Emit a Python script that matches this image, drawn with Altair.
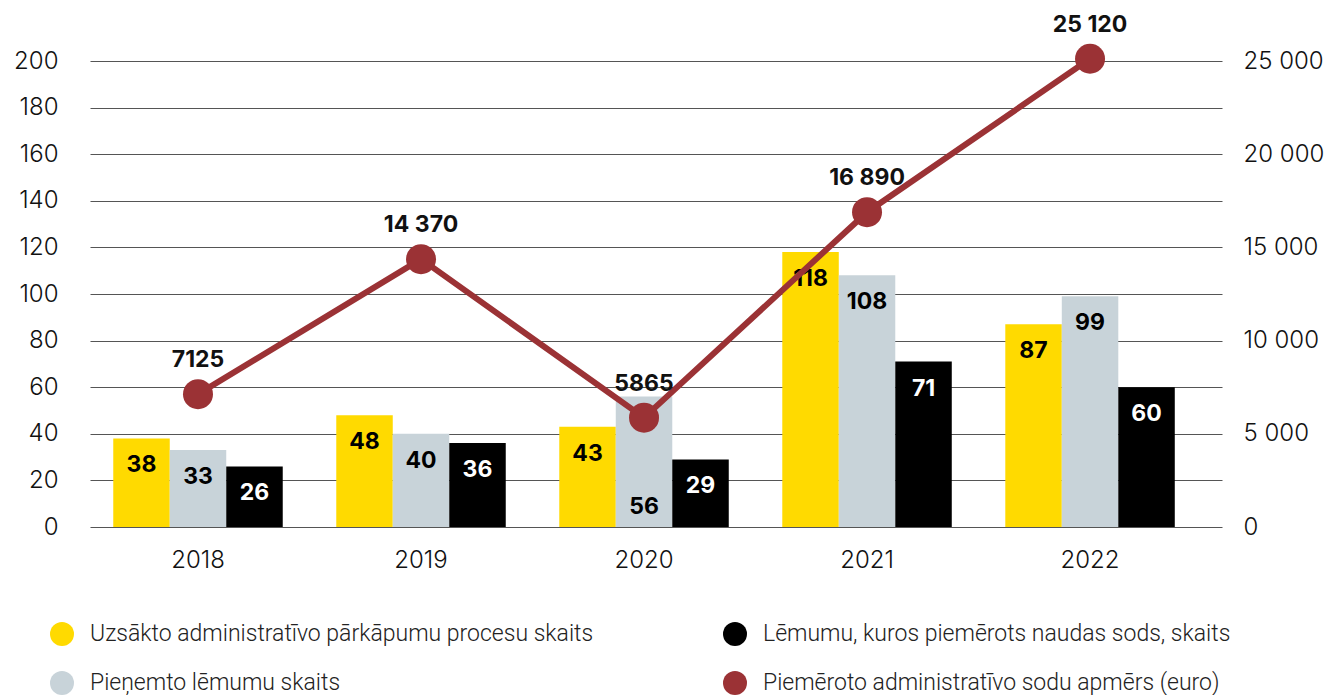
import altair as alt
import pandas as pd

years = ["2018", "2019", "2020", "2021", "2022"]
started = [38, 48, 43, 118, 87]
decisions = [33, 40, 56, 108, 99]
fined = [26, 36, 29, 71, 60]
fines_eur = [7125, 14370, 5865, 16890, 25120]

S1 = "Uzsākto administratīvo pārkāpumu procesu skaits"
S2 = "Pieņemto lēmumu skaits"
S3 = "Lēmumu, kuros piemērots naudas sods, skaits"
S4 = "Piemēroto administratīvo sodu apmērs (euro)"

left_ticks = list(range(0, 201, 20))
right_ticks = list(range(0, 25001, 5000))

YELLOW = "#FFDA00"
GRAY = "#C8D3D9"
BLACK = "#000000"
RED = "#9B3235"

rows = []
for i, y in enumerate(years):
    for s, vals in ((S1, started), (S2, decisions), (S3, fined)):
        v = vals[i]
        # the middle bar's top label would sit under the line's point -> move to base
        collide = (s == S2) and abs((v - 10) - fines_eur[i] / 125) < 15
        rows.append({"year": y, "series": s, "value": v, "base": collide})
bars_df = pd.DataFrame(rows)
line_df = pd.DataFrame({"year": years, "eur": fines_eur, "series": S4})

FONT = "Inter"

x_enc = alt.X(
    "year:N",
    sort=years,
    title=None,
    scale=alt.Scale(paddingInner=0.24, paddingOuter=0.158, align=0.33),
    axis=alt.Axis(domain=False, ticks=False, labelAngle=0, labelFont=FONT,
                  labelFontWeight=300, labelFontSize=24, labelColor="#111",
                  labelPadding=21, grid=False),
)
xoff = alt.XOffset("series:N", sort=[S1, S2, S3], scale=alt.Scale(paddingInner=0))

y_left = alt.Y(
    "value:Q",
    title=None,
    scale=alt.Scale(domain=[0, 200], nice=False),
    axis=alt.Axis(values=left_ticks, domain=False, ticks=False, labelFont=FONT,
                  labelFontWeight=300, labelFontSize=24, labelColor="#111",
                  labelPadding=32, grid=True, gridColor="#555", gridWidth=1),
)

color = alt.Color(
    "series:N",
    scale=alt.Scale(domain=[S1, S2, S3, S4], range=[YELLOW, GRAY, BLACK, RED]),
    legend=alt.Legend(
        title=None, orient="none", legendX=-40, legendY=561, columns=2,
        symbolType="circle", symbolSize=576, symbolStrokeWidth=0,
        labelFont="Roboto", labelFontWeight=300, labelFontSize=23,
        labelColor="#222", labelOffset=16, labelLimit=0, rowPadding=25,
        columnPadding=129, padding=0,
    ),
)

base_bars = alt.Chart(bars_df)
bars = base_bars.mark_bar().encode(x=x_enc, xOffset=xoff, y=y_left, color=color)

txt_color = alt.condition(alt.datum.series == S3, alt.value("white"), alt.value("black"))
bar_text = base_bars.transform_filter("!datum.base").mark_text(
    font=FONT, fontWeight="bold", fontSize=23, baseline="middle", dy=27
).encode(x="year:N", xOffset=xoff, y="value:Q", text="value:Q", color=txt_color)
bar_text_base = base_bars.transform_filter("datum.base").mark_text(
    font=FONT, fontWeight="bold", fontSize=23, baseline="middle", dy=-20
).encode(x="year:N", xOffset=xoff, y=alt.datum(0), text="value:Q", color=txt_color)

left = alt.layer(bars, bar_text, bar_text_base)

y_right = alt.Y(
    "eur:Q",
    title=None,
    scale=alt.Scale(domain=[0, 25000], nice=False),
    axis=alt.Axis(orient="right", values=right_ticks, domain=False, ticks=False,
                  grid=False, labelFont=FONT, labelFontWeight=300, labelFontSize=24,
                  labelColor="#111", labelPadding=21,
                  labelExpr="replace(format(datum.value, ','), ',', ' ')"),
)
base_line = alt.Chart(line_df)
line = base_line.mark_line(color=RED, strokeWidth=6).encode(x="year:N", y=y_right)
points = base_line.mark_circle(size=900, opacity=1).encode(x="year:N", y="eur:Q", color=color)
line_text = base_line.transform_calculate(
    lab="datum.eur >= 10000 ? replace(format(datum.eur, ','), ',', ' ') : format(datum.eur, 'd')"
).mark_text(font=FONT, fontWeight="bold", fontSize=23, baseline="middle", dy=-34,
            color="#111").encode(x="year:N", y="eur:Q", text="lab:N")
right = alt.layer(line, points, line_text)

chart = alt.layer(left, right).resolve_scale(y="independent").properties(
    width=1132, height=466,
    padding={"left": 82, "top": 53, "right": 106, "bottom": 168},
    autosize=alt.AutoSizeParams(type="none"),
).configure_view(stroke=None)

chart.save("out.html", embed_options={"renderer": "svg", "actions": False})
